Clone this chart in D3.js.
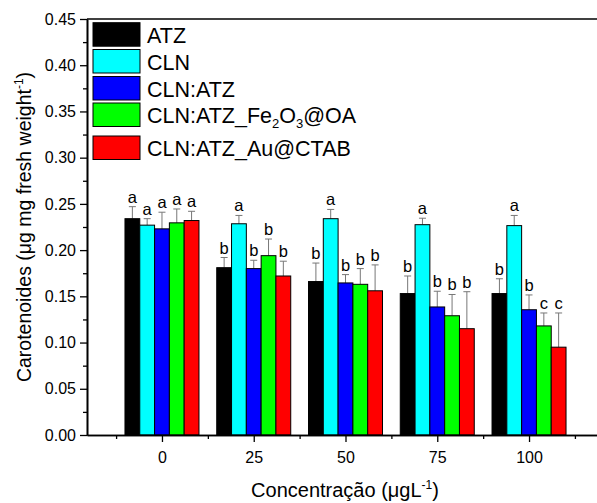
<!DOCTYPE html>
<html>
<head>
<meta charset="utf-8">
<script src="https://cdn.jsdelivr.net/npm/d3@7"></script>
<style>
  body { margin: 0; background: #fff; }
  text { font-family: "Liberation Sans", Arial, sans-serif; }
</style>
</head>
<body>
<svg id="chart"></svg>
<script>
// Data
const concs = ["0", "25", "50", "75", "100"];
const seriesNames = ["ATZ", "CLN", "CLN:ATZ", "CLN:ATZ_Fe2O3@OA", "CLN:ATZ_Au@CTAB"];
const colors = ["#000000", "#00ffff", "#0000ff", "#00ff00", "#ff0000"];

const atz    = [0.234, 0.181, 0.166, 0.153, 0.153];
const cln    = [0.227, 0.2285, 0.234, 0.2275, 0.2265];
const clnAtz = [0.223, 0.180, 0.1645, 0.1385, 0.1355];
const clnFe  = [0.2295, 0.194, 0.163, 0.129, 0.118];
const clnAu  = [0.232, 0.172, 0.156, 0.115, 0.095];

const atzErr    = [0.013, 0.011, 0.020, 0.019, 0.016];
const clnErr    = [0.007, 0.009, 0.010, 0.007, 0.011];
const clnAtzErr = [0.018, 0.009, 0.009, 0.017, 0.016];
const clnFeErr  = [0.015, 0.018, 0.017, 0.023, 0.014];
const clnAuErr  = [0.010, 0.016, 0.028, 0.040, 0.037];

const atzLet    = ["a", "b", "b", "b", "b"];
const clnLet    = ["a", "a", "a", "a", "a"];
const clnAtzLet = ["a", "b", "b", "b", "b"];
const clnFeLet  = ["a", "b", "b", "b", "c"];
const clnAuLet  = ["a", "b", "b", "b", "c"];

const yTicks = [0, 0.05, 0.10, 0.15, 0.20, 0.25, 0.30, 0.35, 0.40, 0.45];

const values = [atz, cln, clnAtz, clnFe, clnAu];
const errs = [atzErr, clnErr, clnAtzErr, clnFeErr, clnAuErr];
const lets = [atzLet, clnLet, clnAtzLet, clnFeLet, clnAuLet];

const width = 597, height = 503;
const plotLeft = 87, plotTop = 19, plotBottom = 435, plotRight = 604;

const svg = d3.select("#chart").attr("width", width).attr("height", height);

// scales
const x = d3.scaleLinear().domain([-0.817, 4.817]).range([plotLeft, plotRight]);
const xs = d3.scaleBand().domain(d3.range(seriesNames.length)).range([-37, 37]);
const y = d3.scaleLinear().domain([0, 0.45]).range([plotBottom, plotTop]);

// build flat records
const rows = [];
concs.forEach((c, i) => {
  seriesNames.forEach((s, j) => {
    rows.push({ i, j, v: values[j][i], e: errs[j][i], l: lets[j][i] });
  });
});

// error bars (drawn first, behind bars)
const eb = svg.append("g").attr("stroke", "#777").attr("stroke-width", 1);
rows.forEach(d => {
  const cx = x(d.i) + xs(d.j) + xs.bandwidth() / 2;
  eb.append("line").attr("x1", cx).attr("x2", cx).attr("y1", y(d.v)).attr("y2", y(d.v + d.e));
  eb.append("line").attr("x1", cx - 3.5).attr("x2", cx + 3.5).attr("y1", y(d.v + d.e)).attr("y2", y(d.v + d.e));
});

// bars
svg.append("g").selectAll("rect")
  .data(rows)
  .enter()
  .append("rect")
  .attr("x", d => x(d.i) + xs(d.j))
  .attr("y", d => y(d.v))
  .attr("width", xs.bandwidth())
  .attr("height", d => y(0) - y(d.v))
  .attr("fill", d => colors[d.j])
  .attr("stroke", "#000")
  .attr("stroke-width", 1);

// significance letters
svg.append("g").selectAll("text")
  .data(rows)
  .enter()
  .append("text")
  .attr("x", d => x(d.i) + xs(d.j) + xs.bandwidth() / 2)
  .attr("y", d => y(d.v + d.e) - 4)
  .attr("text-anchor", "middle")
  .attr("font-size", 16.5)
  .text(d => d.l);

// y axis
const yAxis = svg.append("g")
  .attr("transform", `translate(${plotLeft},0)`)
  .call(d3.axisLeft(y).tickValues(yTicks).tickFormat(d3.format(".2f")).tickSize(7).tickSizeOuter(0));
yAxis.selectAll("text").attr("font-size", 16).attr("font-family", "Liberation Sans, Arial, sans-serif").attr("fill", "#000").attr("x", -11);
svg.append("g")
  .attr("transform", `translate(${plotLeft},0)`)
  .call(d3.axisLeft(y).tickValues(yTicks.slice(0, -1).map(t => t + 0.025)).tickFormat("").tickSize(4).tickSizeOuter(0));

// x axis
const xAxis = svg.append("g")
  .attr("transform", `translate(0,${plotBottom})`)
  .call(d3.axisBottom(x).tickValues(d3.range(concs.length)).tickFormat(i => concs[i]).tickSize(7).tickSizeOuter(0));
xAxis.selectAll("text").attr("font-size", 16).attr("font-family", "Liberation Sans, Arial, sans-serif").attr("fill", "#000").attr("dy", "1.15em");
svg.append("g")
  .attr("transform", `translate(0,${plotBottom})`)
  .call(d3.axisBottom(x).tickValues(d3.range(-0.5, concs.length, 1)).tickFormat("").tickSize(4).tickSizeOuter(0));

svg.selectAll(".domain").attr("stroke-width", 1.6);
svg.selectAll(".tick line").attr("stroke-width", 1.3);

// top frame line
svg.append("line").attr("x1", plotLeft).attr("x2", plotRight).attr("y1", plotTop).attr("y2", plotTop)
  .attr("stroke", "#000").attr("stroke-width", 1.6);

// legend
const legY = [22.7, 49.5, 76.5, 103, 136];
const leg = svg.append("g");
seriesNames.forEach((s, j) => {
  leg.append("rect").attr("x", 93).attr("y", legY[j]).attr("width", 47).attr("height", 23.5)
    .attr("fill", colors[j]).attr("stroke", "#000").attr("stroke-width", 1);
  const t = leg.append("text").attr("x", 147).attr("y", legY[j] + 20).attr("font-size", 21.5);
  if (s === "CLN:ATZ_Fe2O3@OA") {
    t.append("tspan").text("CLN:ATZ_Fe");
    t.append("tspan").attr("font-size", 13).attr("dy", 5).text("2");
    t.append("tspan").attr("dy", -5).text("O");
    t.append("tspan").attr("font-size", 13).attr("dy", 5).text("3");
    t.append("tspan").attr("dy", -5).text("@OA");
  } else {
    t.text(s);
  }
});

// axis titles
const yt = svg.append("text")
  .attr("transform", "translate(31,227) rotate(-90)")
  .attr("text-anchor", "middle")
  .attr("font-size", 19.5);
yt.append("tspan").text("Carotenoides (\u03bcg mg fresh weight");
yt.append("tspan").attr("font-size", 12).attr("dy", -8).text("-1");
yt.append("tspan").attr("dy", 8).text(")");

const xt = svg.append("text")
  .attr("x", 345).attr("y", 497)
  .attr("text-anchor", "middle")
  .attr("font-size", 20);
xt.append("tspan").text("Concentra\u00e7\u00e3o (\u03bcgL");
xt.append("tspan").attr("font-size", 12).attr("dy", -8).text("-1");
xt.append("tspan").attr("dy", 8).text(")");
</script>
</body>
</html>
